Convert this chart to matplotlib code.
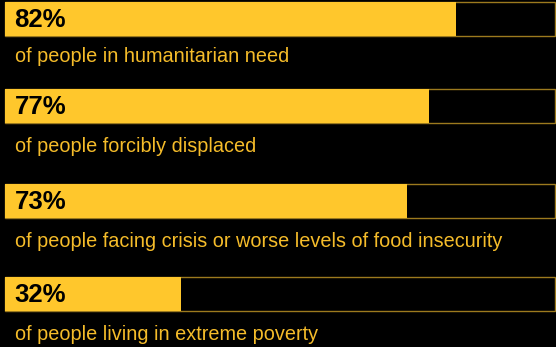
import matplotlib
matplotlib.use("Agg")
import matplotlib.pyplot as plt

# Shares of the population affected
percentages = [82, 77, 73, 32]
descriptions = [
    "of people in humanitarian need",
    "of people forcibly displaced",
    "of people facing crisis or worse levels of food insecurity",
    "of people living in extreme poverty",
]

# Layout (pixel units of the canvas)
W, H = 556, 347
row_centers = [19, 105.5, 200.5, 294]
label_baselines = [62, 152, 247, 340]
bar_h = 34
left_px, right_px = 5, 555

YELLOW = "#FFC72C"
TEXT_YELLOW = "#F5BC2A"
TRACK_EDGE = "#9C7A1E"

fig = plt.figure(figsize=(W / 100, H / 100), dpi=100)
fig.patch.set_facecolor("black")
ax = fig.add_axes([0, 0, 1, 1])
ax.set_facecolor("black")

scale = (right_px - left_px) / 100.0
ax.set_xlim(-left_px / scale, (W - left_px) / scale)
ax.set_ylim(H, 0)
ax.axis("off")

text_x = 10 / scale  # text starts 10 px right of the bar origin

for pct, desc, yc, yb in zip(percentages, descriptions, row_centers, label_baselines):
    # track (full 100%) outline
    ax.barh(yc, 100, height=bar_h, left=0, color="black",
            edgecolor=TRACK_EDGE, linewidth=1.0)
    # value bar
    ax.barh(yc, pct, height=bar_h, left=0, color=YELLOW, linewidth=0)
    ax.text(text_x - 0.1, yc + 1, f"{pct}%", color="black", fontsize=18.5,
            fontweight="bold", family="Liberation Sans",
            ha="left", va="center")
    ax.text(text_x, yb, desc, color=TEXT_YELLOW, fontsize=14.3,
            family="Liberation Sans", ha="left", va="baseline")

fig.savefig("out.png", dpi=100, facecolor="black")
